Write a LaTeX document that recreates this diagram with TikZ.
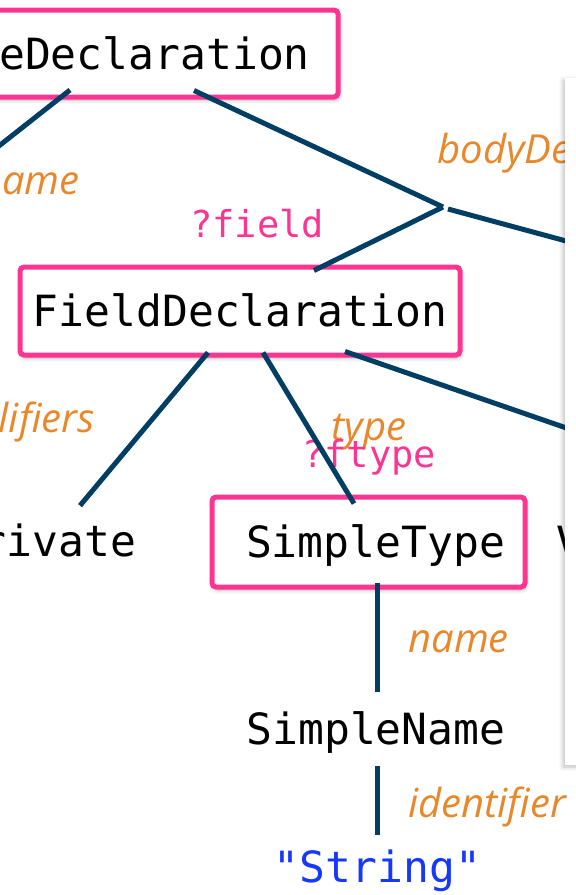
\documentclass[tikz,border=0pt]{standalone}
\usepackage{fontspec}
\setmonofont{DejaVu Sans Mono}
\newfontfamily\handfont{Open Sans}
\usetikzlibrary{shadows.blur}
\definecolor{boxpink}{RGB}{252,52,146}
\definecolor{linkblue}{RGB}{0,62,100}
\definecolor{roleorange}{RGB}{232,136,42}
\definecolor{strblue}{RGB}{22,56,250}

\begin{document}
\begin{tikzpicture}[x=0.5pt, y=-0.5pt,
  ast/.style={font=\ttfamily\fontsize{21.5}{26}\selectfont, text height=15.7pt, text depth=0pt, inner sep=0pt},
  astbox/.style={ast, draw=boxpink, line width=2.5pt, rounded corners=2pt, fill=white,
    blur shadow={shadow xshift=0.5pt, shadow yshift=-1.5pt, shadow blur radius=2pt, shadow opacity=30}},
  role/.style={font=\handfont\itshape\fontsize{20}{24}\selectfont, text=roleorange, inner sep=0pt},
  var/.style={font=\ttfamily\fontsize{18.5}{22}\selectfont, text=boxpink, inner sep=0pt},
  link/.style={draw=linkblue, line width=2.5pt}]
\useasboundingbox (0,0) rectangle (576,895);
\clip (0,0) rectangle (576,895);

% AST nodes
\node[astbox, minimum width=183.5pt, minimum height=43.5pt] (td) at (154.5,53.5) {eDeclaration};
\node[astbox, minimum width=220pt, minimum height=44pt] (fd) at (240,311) {FieldDeclaration};
\node[astbox, minimum width=156.5pt, minimum height=45pt] (st) at (368.5,542) {\hspace{7pt}SimpleType};
\node[ast] (pv) at (58.4,541) {rivate};
\node[ast, anchor=base west] (vf) at (556,557) {V};
\node[ast] (sn) at (376,729) {SimpleName};
\node[ast, text=strblue] (str) at (377.5,867) {"String"};

% roles and pattern variables
\node[role, anchor=base east] (r-name) at (80,194) {ame};
\node[role, anchor=base west] (r-body) at (437,163) {bodyDe};
\node[role, anchor=base east] (r-mod) at (95,432) {lifiers};
\node[role, anchor=base west] (r-type) at (331,440) {type};
\node[role, anchor=base west] (r-sname) at (408,652) {name};
\node[role, anchor=base west] (r-id) at (408,817) {identifier};
\node[var, anchor=base west] (v-field) at (190,237) {?field};
\node[var, anchor=base west] (v-ftype) at (302,467) {?ftype};

\coordinate (nm) at (-10,153);
\coordinate (jn) at (443,207);
\coordinate (jr) at (448,209);
\coordinate (bd) at (620,255.6);
\coordinate (vd) at (620,446.5);

% edges
\draw[link] ([shift={(-84.5,-9.5)}]td.south) -- (nm);
\draw[link] ([shift={(39.5,-9)}]td.south) -- (jn);
\draw[link] (jn) -- ([shift={(74,6)}]fd.north);
\draw[link] (jr) -- (bd);
\draw[link] ([shift={(-32,-5)}]fd.south) -- ([shift={(21.6,-19.3)}]pv.north);
\draw[link] ([shift={(23,-5)}]fd.south) -- ([shift={(-14.5,9)}]st.north);
\draw[link] ([shift={(105,-6)}]fd.south) -- (vd);
\draw[link] ([shift={(8.5,-7)}]st.south) -- ([shift={(1,-21.3)}]sn.north);
\draw[link] ([shift={(1,21.3)}]sn.south) -- ([shift={(-0.5,-16.3)}]str.north);

% panel on the right
\fill[white, blur shadow={shadow xshift=-1pt, shadow yshift=-1pt, shadow blur radius=2pt, shadow opacity=25}]
  (565,78) rectangle (640,765);
\end{tikzpicture}
\end{document}
